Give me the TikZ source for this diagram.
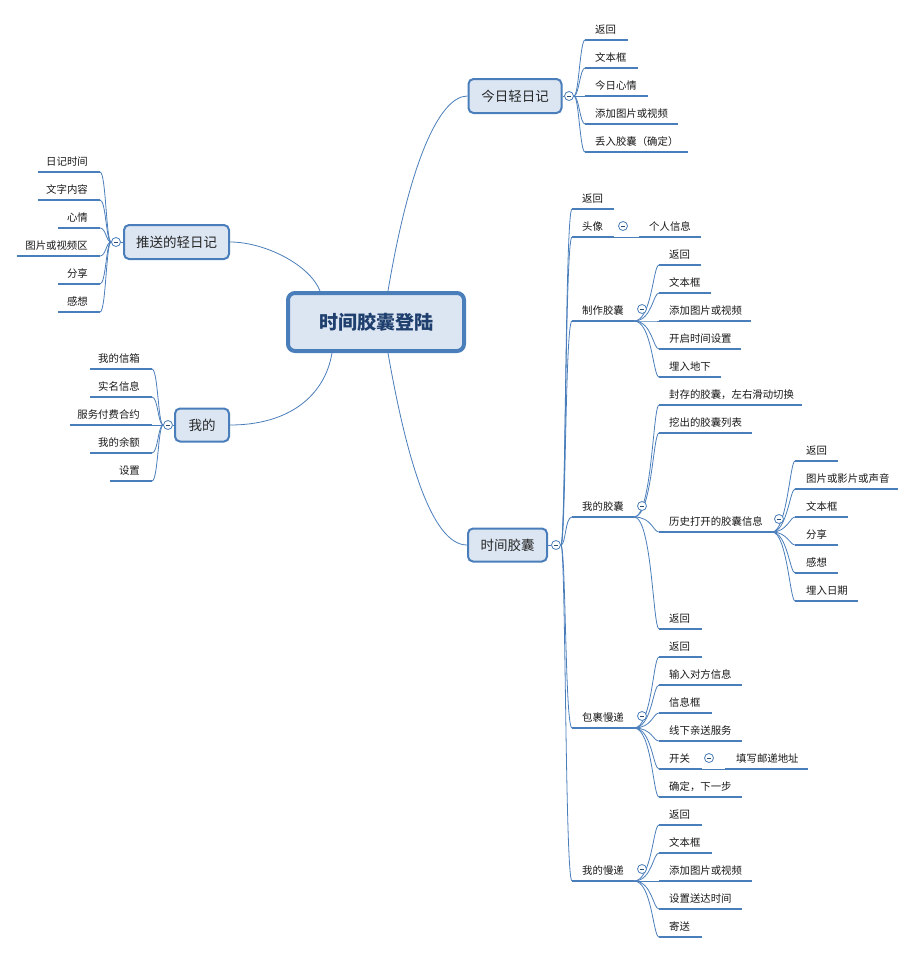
\documentclass[tikz,border=0pt]{standalone}
\usepackage{fontspec}
\newfontfamily\cjk{Noto Sans CJK SC}
\definecolor{lineblue}{HTML}{4A7EBB}
\definecolor{boxfill}{HTML}{DCE6F2}
\definecolor{maintext}{HTML}{1F3F6E}
\begin{document}
\begin{tikzpicture}[x=1pt,y=-1pt,
    topic/.style={draw=lineblue, line width=2pt, fill=boxfill, rounded corners=5pt, inner sep=0pt,
      font=\cjk\fontsize{13.5}{16}\selectfont, text=black!85},
    leaf/.style={font=\cjk\fontsize{10.4}{12}\selectfont, text=black!90, inner sep=0pt},
    uline/.style={draw=lineblue, line width=2.7pt},
    branch/.style={draw=lineblue, line width=0.8pt},
    fold/.style={circle, draw=lineblue, fill=white, line width=0.8pt, minimum size=9pt, inner sep=0pt,
      path picture={\draw[lineblue!60!black, line width=0.7pt]
        ([xshift=2.2pt]path picture bounding box.west) -- ([xshift=-2.2pt]path picture bounding box.east);}}]
    \useasboundingbox (0,0) rectangle (916,954);

    \node[topic, line width=4pt, rounded corners=7pt, minimum width=176pt, minimum height=58pt,
      font=\cjk\bfseries\fontsize{19}{22}\selectfont, text=maintext] (main) at (376,322) {时间胶囊登陆};
    \node[topic, minimum width=93pt, minimum height=34pt] (jr) at (515,96) {今日轻日记};
    \node[topic, minimum width=105pt, minimum height=34pt] (ts) at (176.5,242) {推送的轻日记};
    \node[topic, minimum width=54pt, minimum height=33pt] (wd) at (202,425) {我的};
    \node[topic, minimum width=79pt, minimum height=33pt] (sj) at (507.5,545) {时间胶囊};

    \draw[branch] ([xshift=12pt]main.north) .. controls (410,160) and (440,96) .. (jr.west);
    \draw[branch] ([xshift=-56pt]main.north) .. controls (310,265) and (265,242) .. (ts.east);
    \draw[branch] ([xshift=-44pt]main.south) .. controls (325,395) and (290,425) .. (wd.east);
    \draw[branch] ([xshift=12pt]main.south) .. controls (405,450) and (430,545) .. (sj.west);

    \node[fold] (jrf) at (569,96) {};
    \node[fold] (tsf) at (116,242) {};
    \node[fold] (wdf) at (168,425) {};
    \node[fold] (sjf) at (556,545) {};
    \draw[branch] (jr.east) -- (jrf.west);
    \draw[branch] (ts.west) -- (tsf.east);
    \draw[branch] (wd.west) -- (wdf.east);
    \draw[branch] (sj.east) -- (sjf.west);

    % 今日轻日记
    \foreach \n/\xs/\xe/\y/\txt in {j1/585/628/40/返回, j2/585/638/68/文本框, j3/585/648/96/今日心情,
        j4/585/678/124/添加图片或视频, j5/585/688/152/丢入胶囊（确定）}{
      \coordinate (s\n) at (\xs,\y);
      \coordinate (e\n) at (\xe,\y);
      \node[leaf, anchor=base west] (\n) at (\xs+10,\y-7) {\txt};
      \draw[branch] (jrf.east) to[out=0,in=180,out distance=5pt,in distance=5pt] (s\n);
      \draw[uline] (s\n) -- (e\n);
    }

    % 推送的轻日记
    \foreach \n/\xs/\xe/\y/\txt in {t1/38/100/172/日记时间, t2/38/100/200/文字内容, t3/58/100/228/心情,
        t4/17/100/256/图片或视频区, t5/58/100/284/分享, t6/58/100/312/感想}{
      \coordinate (s\n) at (\xs,\y);
      \coordinate (e\n) at (\xe,\y);
      \node[leaf, anchor=base east] (\n) at (\xe-12,\y-7) {\txt};
      \draw[branch] (tsf.west) to[out=180,in=0,out distance=5pt,in distance=6pt] (e\n);
      \draw[uline] (s\n) -- (e\n);
    }

    % 我的
    \foreach \n/\xs/\xe/\y/\txt in {w1/90/152/369/我的信箱, w2/90/152/397/实名信息, w3/70/152/425/服务付费合约,
        w4/90/152/453/我的余额, w5/110/152/481/设置}{
      \coordinate (s\n) at (\xs,\y);
      \coordinate (e\n) at (\xe,\y);
      \node[leaf, anchor=base east] (\n) at (\xe-12,\y-7) {\txt};
      \draw[branch] (wdf.west) to[out=180,in=0,out distance=5pt,in distance=6pt] (e\n);
      \draw[uline] (s\n) -- (e\n);
    }

    % 时间胶囊
    \foreach \n/\xe/\y/\txt in {s1/614/209/返回, s2/614/237/头像, s3/634/321/制作胶囊,
        s4/634/517/我的胶囊, s5/634/728/包裹慢递, s6/634/881/我的慢递}{
      \coordinate (s\n) at (572,\y);
      \coordinate (e\n) at (\xe,\y);
      \node[leaf, anchor=base west] (\n) at (582,\y-7) {\txt};
      \draw[branch] (sjf.east) to[out=0,in=180,out distance=5pt,in distance=7pt] (s\n);
      \draw[uline] (s\n) -- (e\n);
    }

    \coordinate (sgr) at (639,237);
    \coordinate (egr) at (701,237);
    \node[leaf, anchor=base west] (gr) at (649,230) {个人信息};
    \draw[branch] (es2) -- (sgr);
    \draw[uline] (sgr) -- (egr);

    \foreach \p/\n/\xe/\y/\txt in {s3/m1/701/265/返回, s3/m2/711/293/文本框, s3/m3/751/321/添加图片或视频,
        s3/m4/741/349/开启时间设置, s3/m5/721/377/埋入地下,
        s4/c1/802/405/封存的胶囊，左右滑动切换, s4/c2/752/433/挖出的胶囊列表,
        s4/c3/772/532/历史打开的胶囊信息, s4/c4/702/629/返回,
        s5/p1/702/657/返回, s5/p2/742/685/输入对方信息, s5/p3/712/713/信息框,
        s5/p4/742/741/线下亲送服务, s5/p5/702/769/开关, s5/p6/742/797/确定，下一步,
        s6/d1/702/825/返回, s6/d2/712/853/文本框, s6/d3/752/881/添加图片或视频,
        s6/d4/742/909/设置送达时间, s6/d5/702/937/寄送}{
      \coordinate (s\n) at (659,\y);
      \coordinate (e\n) at (\xe,\y);
      \node[leaf, anchor=base west] (\n) at (669,\y-7) {\txt};
      \draw[branch] (e\p) to[out=0,in=180,out distance=18pt,in distance=6pt] (s\n);
      \draw[uline] (s\n) -- (e\n);
    }

    % 历史打开的胶囊信息
    \foreach \n/\xe/\y/\txt in {h1/838/461/返回, h2/898/489/图片或影片或声音, h3/848/517/文本框,
        h4/838/545/分享, h5/838/573/感想, h6/858/601/埋入日期}{
      \coordinate (s\n) at (795,\y);
      \coordinate (e\n) at (\xe,\y);
      \node[leaf, anchor=base west] (\n) at (806,\y-7) {\txt};
      \draw[branch] (ec3) to[out=0,in=180,out distance=15pt,in distance=5pt] (s\n);
      \draw[uline] (s\n) -- (e\n);
    }

    % 开关
    \coordinate (syj) at (725,769);
    \coordinate (eyj) at (808,769);
    \node[leaf, anchor=base west] (yj) at (736,762) {填写邮递地址};
    \draw[branch] (ep5) -- (syj);
    \draw[uline] (syj) -- (eyj);

    \node[fold] (s2f) at (623,226) {};
    \node[fold] (s3f) at (642,309) {};
    \node[fold] (s4f) at (642,506) {};
    \node[fold] (s5f) at (642,716) {};
    \node[fold] (s6f) at (642,869) {};
    \node[fold] (c3f) at (779,519) {};
    \node[fold] (p5f) at (709,758) {};
\end{tikzpicture}
\end{document}
